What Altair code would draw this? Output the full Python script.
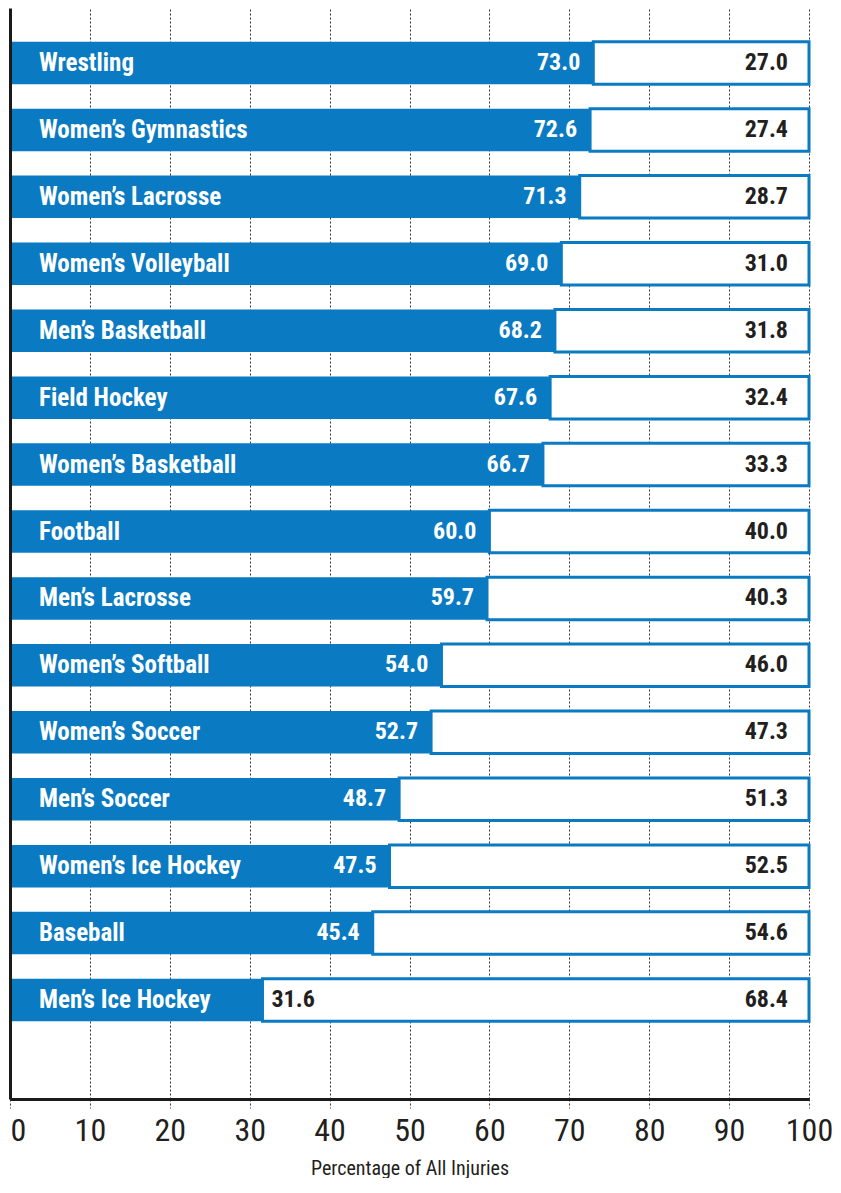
import altair as alt
import pandas as pd

sports = [
    "Wrestling", "Women’s Gymnastics", "Women’s Lacrosse", "Women’s Volleyball",
    "Men’s Basketball", "Field Hockey", "Women’s Basketball", "Football",
    "Men’s Lacrosse", "Women’s Softball", "Women’s Soccer", "Men’s Soccer",
    "Women’s Ice Hockey", "Baseball", "Men’s Ice Hockey",
]
share_a = [73.0, 72.6, 71.3, 69.0, 68.2, 67.6, 66.7, 60.0, 59.7, 54.0, 52.7, 48.7, 47.5, 45.4, 31.6]
share_b = [27.0, 27.4, 28.7, 31.0, 31.8, 32.4, 33.3, 40.0, 40.3, 46.0, 47.3, 51.3, 52.5, 54.6, 68.4]
x_ticks = [0, 10, 20, 30, 40, 50, 60, 70, 80, 90, 100]

BLUE = "#0a7bc2"
DARK = "#231f20"
FONT = "Liberation Sans Narrow, Roboto Condensed, DejaVu Sans Condensed, sans-serif"

df = pd.DataFrame({"sport": sports, "a": share_a, "b": share_b})

y_enc = alt.Y(
    "sport:N", sort=sports,
    scale=alt.Scale(paddingInner=0.365, paddingOuter=0.833, align=0.3027),
    axis=alt.Axis(labels=False, ticks=False, title=None, grid=False,
                  domainColor="#1a1a1a", domainWidth=3, zindex=1),
)

x_axis = alt.Axis(
    values=x_ticks, grid=True, gridDash=[2, 2], gridColor="#333333", gridWidth=1,
    ticks=True, tickDash=[2, 2], tickSize=9, tickColor="#333333", tickWidth=1,
    domainColor="#1a1a1a", domainWidth=3,
    labelFont=FONT, labelFontSize=32, labelColor=DARK, labelPadding=7,
    labelAlign={"condition": {"test": "datum.value === 0", "value": "left"}, "value": "center"},
    title="Percentage of All Injuries", titleFont=FONT, titleFontSize=20,
    titleFontWeight="normal", titleColor=DARK, titlePadding=12,
)

base = alt.Chart(df).transform_calculate(end="datum.a + datum.b")

blue_bar = base.mark_bar(color=BLUE).encode(
    x=alt.X("a:Q", scale=alt.Scale(domain=[0, 100], nice=False), axis=x_axis),
    y=y_enc,
)

white_bar = base.mark_bar(fill="white", stroke=BLUE, strokeWidth=3).encode(
    x=alt.X("a:Q"), x2="end:Q", y=y_enc,
)

cat_text = base.mark_text(align="left", baseline="middle", font=FONT, fontWeight="bold",
                          fontSize=25, color="white").encode(
    x=alt.value(29), y=y_enc, text="sport:N",
)

a_in = base.transform_filter("datum.a >= 35").mark_text(
    align="right", baseline="middle", dx=-13, font=FONT, fontWeight="bold",
    fontSize=24, color="white").encode(
    x=alt.X("a:Q"), y=y_enc, text=alt.Text("a:Q", format=".1f"),
)

a_out = base.transform_filter("datum.a < 35").mark_text(
    align="left", baseline="middle", dx=9, font=FONT, fontWeight="bold",
    fontSize=24, color=DARK).encode(
    x=alt.X("a:Q"), y=y_enc, text=alt.Text("a:Q", format=".1f"),
)

b_text = base.mark_text(align="right", baseline="middle", dx=-21, font=FONT,
                        fontWeight="bold", fontSize=24, color=DARK).encode(
    x=alt.X("end:Q"), y=y_enc, text=alt.Text("b:Q", format=".1f"),
)

chart = alt.layer(blue_bar, white_bar, cat_text, a_in, a_out, b_text).properties(
    width=799, height=1091,
    padding={"left": 1, "top": 0, "right": 0, "bottom": 0},
).configure_view(stroke=None)

chart.save("out.html", embed_options={"renderer": "svg", "actions": False})
